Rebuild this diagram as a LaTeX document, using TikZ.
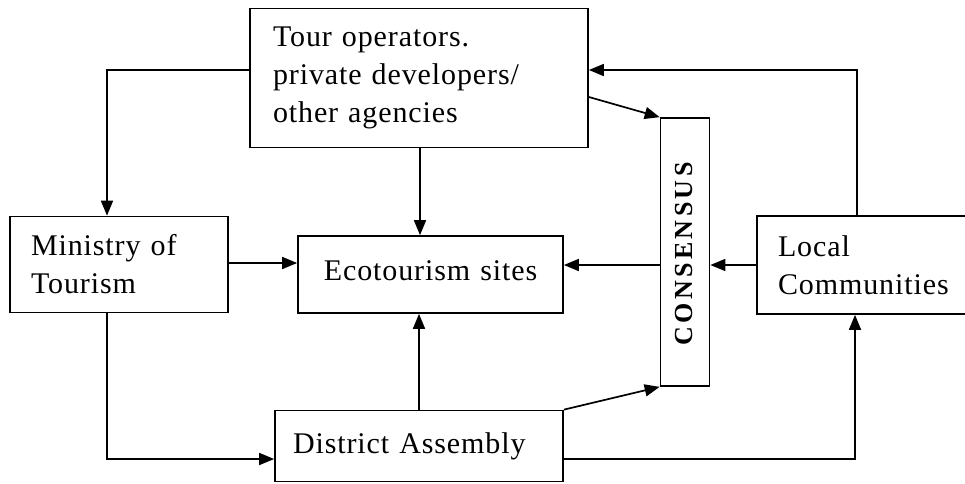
\documentclass[tikz,border=0pt]{standalone}
\usepackage{fontspec}
\setmainfont{Liberation Serif}[LetterSpace=3]
\usetikzlibrary{arrows.meta}
\begin{document}
\begin{tikzpicture}[x=1pt,y=-1pt,
  box/.style={draw,line width=1.7pt,inner sep=0pt,font=\fontsize{30}{38}\selectfont},
  arr/.style={line width=1.7pt,-{Triangle[length=15pt,width=12pt]}}]
\useasboundingbox (0,0) rectangle (965,483);
% boxes
\node[box,minimum width=338pt,minimum height=139pt,text width=292pt,align=left] (tour) at (419,78) {Tour operators.\\private developers/\\other agencies};
\node[box,minimum width=218pt,minimum height=96pt,text width=176pt,align=left] (min) at (119,264.5) {Ministry of\\Tourism};
\node[box,minimum width=265pt,minimum height=77pt,text width=241pt,align=center] (eco) at (430.5,274.5) {\raisebox{7pt}{Ecotourism sites}};
\node[box,minimum width=288pt,minimum height=71pt,text width=252pt,align=left] (da) at (419,446) {\raisebox{4pt}{District Assembly}};
\node[box,minimum width=49pt,minimum height=268pt] (cons) at (685,252) {};
\node[rotate=90,font=\fontsize{26}{30}\selectfont\bfseries\addfontfeature{LetterSpace=13}] (constext) at ([xshift=-1pt,yshift=-2pt]cons.center) {CONSENSUS};
\node[box,minimum width=220pt,minimum height=98pt,text width=178pt,align=left] (loc) at (867,265) {Local\\Communities};
% connectors
\draw[arr] (tour.west |- 0,70) -| (min.north -| 107,0);
\draw[arr] (tour.south -| 420,0) -- (eco.north -| 420,0);
\draw[arr] (tour.east |- 0,97) -- (cons.north west);
\draw[arr] (loc.north -| 857,0) |- (tour.east |- 0,70);
\draw[arr] (min.east |- 0,263) -- (eco.west |- 0,263);
\draw[arr] (cons.west |- 0,265) -- (eco.east |- 0,265);
\draw[arr] (loc.west |- 0,265) -- (cons.east |- 0,265);
\draw[arr] (min.south -| 107,0) |- (da.west |- 0,459);
\draw[arr] (da.north -| 419,0) -- (eco.south -| 419,0);
\draw[arr] (da.north east) -- (cons.south west);
\draw[arr] (da.east |- 0,459) -| (loc.south -| 855,0);
\end{tikzpicture}
\end{document}
